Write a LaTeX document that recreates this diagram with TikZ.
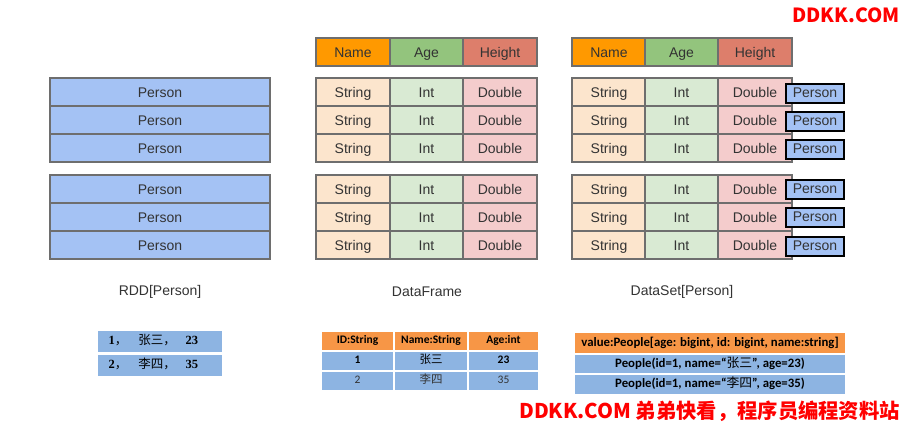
\documentclass[tikz,border=0pt]{standalone}
\usepackage{fontspec}
\setmainfont{Liberation Sans}
\newfontfamily\cjk{Noto Sans CJK SC}
\newfontfamily\calib{Carlito}
\newfontfamily\serifb{Liberation Serif}
\definecolor{gridc}{HTML}{6E6E6E}
\definecolor{txt}{HTML}{333333}
\definecolor{rddc}{HTML}{A4C2F4}
\definecolor{hname}{HTML}{FF9900}
\definecolor{hage}{HTML}{93C47D}
\definecolor{hheight}{HTML}{DD7E6B}
\definecolor{cstr}{HTML}{FCE5CD}
\definecolor{cint}{HTML}{D9EAD3}
\definecolor{cdbl}{HTML}{F4CCCC}
\definecolor{botblue}{HTML}{8DB4E2}
\definecolor{botorange}{HTML}{F79646}
\definecolor{wmred}{HTML}{FF0000}
\begin{document}
\begin{tikzpicture}[x=1pt,y=-1pt,
  cell/.style={draw=gridc, line width=1.3pt, inner sep=0pt, outer sep=0pt, anchor=north west,
    text=txt, font=\fontsize{14}{16}\selectfont, text height=11.5pt, text depth=0.5pt,
    minimum height=28pt},
  rddcell/.style={cell, fill=rddc, minimum width=220pt},
  c1/.style={cell, minimum width=74pt},
  c2/.style={cell, minimum width=73pt},
  c3/.style={cell, minimum width=74pt},
  pbox/.style={draw=black, line width=2pt, fill=rddc, inner sep=0pt, anchor=north west,
    minimum width=58pt, minimum height=19pt, text=txt, font=\fontsize{14}{16}\selectfont,
    text height=10.5pt, text depth=2.5pt},
  lbl/.style={text=txt, font=\fontsize{14}{16}\selectfont, inner sep=0pt},
  bcell/.style={draw=white, line width=2pt, inner sep=0pt, anchor=north west,
    font=\calib\fontsize{11.5}{13}\selectfont, text height=8pt, text depth=2.5pt},
  bscell/.style={bcell, font=\calib\fontsize{12.8}{14}\selectfont, text height=9pt, text depth=3pt,
    minimum width=272pt},
  wm/.style={text=wmred, font=\cjk\bfseries\fontsize{19.5}{22}\selectfont, inner sep=0pt, anchor=east}
]
\useasboundingbox (0,0) rectangle (906,424);
\fill[white] (0,0) rectangle (906,424);

% RDD
\foreach \i/\y in {1/78,2/106,3/134,4/175,5/203,6/231}
  \node[rddcell] (rdd\i) at (50,\y) {Person};

% DataFrame
\node[c1, fill=hname] (dfh1) at (316,38) {Name};
\node[c2, fill=hage] (dfh2) at (390,38) {Age};
\node[c3, fill=hheight] (dfh3) at (463,38) {Height};
\foreach \i/\y in {1/78,2/106,3/134,4/175,5/203,6/231}{
  \node[c1, fill=cstr] (df\i a) at (316,\y) {String};
  \node[c2, fill=cint] (df\i b) at (390,\y) {Int};
  \node[c3, fill=cdbl] (df\i c) at (463,\y) {Double};
}

% DataSet
\node[c1, fill=hname] (dsh1) at (572,38) {Name};
\node[c2, fill=hage] (dsh2) at (645,38) {Age};
\node[c3, fill=hheight] (dsh3) at (718,38) {Height};
\foreach \i/\y in {1/78,2/106,3/134,4/175,5/203,6/231}{
  \node[c1, fill=cstr] (ds\i a) at (572,\y) {String};
  \node[c2, fill=cint] (ds\i b) at (645,\y) {Int};
  \node[c3, fill=cdbl] (ds\i c) at (718,\y) {Double};
}
\foreach \i/\y in {1/83,2/111,3/139,4/179,5/207,6/236}
  \node[pbox] (dsp\i) at (785,\y) {Person};

% labels
\node[lbl] (lrdd) at (160,292) {RDD[Person]};
\node[lbl] (ldf) at (427,292) {DataFrame};
\node[lbl] (lds) at (682,292) {DataSet[Person]};

% bottom RDD
\node[draw=white, line width=1pt, fill=botblue, anchor=north west, minimum height=22pt,
  text width=103pt, inner xsep=11pt, inner ysep=0pt, align=left, text height=9pt, text depth=3pt,
  font=\fontsize{12.5}{14}\selectfont] (br1) at (97,330)
  {\makebox[30pt][l]{{\serifb\bfseries 1}{\cjk ，}}\makebox[47pt][l]{\cjk 张三，}{\serifb\bfseries 23}};
\node[draw=white, line width=1pt, fill=botblue, anchor=north west, minimum height=22pt,
  text width=103pt, inner xsep=11pt, inner ysep=0pt, align=left, text height=9pt, text depth=3pt,
  font=\fontsize{12.5}{14}\selectfont] (br2) at (97,353.5)
  {\makebox[30pt][l]{{\serifb\bfseries 2}{\cjk ，}}\makebox[47pt][l]{\cjk 李四，}{\serifb\bfseries 35}};

% bottom DataFrame
\node[bcell, fill=botorange, minimum width=73pt, minimum height=20pt] (bdh1) at (320,330) {\bfseries ID:String};
\node[bcell, fill=botorange, minimum width=74pt, minimum height=20pt] (bdh2) at (393,330) {\bfseries Name:String};
\node[bcell, fill=botorange, minimum width=71pt, minimum height=20pt] (bdh3) at (467,330) {\bfseries Age:int};
\node[bcell, fill=botblue, minimum width=73pt, minimum height=20pt] (bd1a) at (320,350) {\bfseries 1};
\node[bcell, fill=botblue, minimum width=74pt, minimum height=20pt] (bd1b) at (393,350) {\cjk 张三};
\node[bcell, fill=botblue, minimum width=71pt, minimum height=20pt] (bd1c) at (467,350) {\bfseries 23};
\node[bcell, fill=botblue, minimum width=73pt, minimum height=20pt, text=txt] (bd2a) at (320,370) {2};
\node[bcell, fill=botblue, minimum width=74pt, minimum height=20pt, text=txt] (bd2b) at (393,370) {\cjk 李四};
\node[bcell, fill=botblue, minimum width=71pt, minimum height=20pt, text=txt] (bd2c) at (467,370) {35};

% bottom DataSet
\node[bscell, fill=botorange, minimum height=22pt] (bsh) at (573,331)
  {\bfseries value:People[age: bigint, id: bigint, name:string]};
\node[bscell, fill=botblue, minimum height=20pt] (bs1) at (573,353)
  {\bfseries People(id=1, name=“{\cjk\mdseries 张三}”, age=23)};
\node[bscell, fill=botblue, minimum height=21pt] (bs2) at (573,373)
  {\bfseries People(id=1, name=“{\cjk\mdseries 李四}”, age=35)};

% watermarks
\node[wm] (wm1) at (900,15) {DDKK.COM};
\node[wm, font=\cjk\bfseries\fontsize{20.3}{23}\selectfont] (wm2) at (900,411) {DDKK.COM 弟弟快看，程序员编程资料站};
\end{tikzpicture}
\end{document}
